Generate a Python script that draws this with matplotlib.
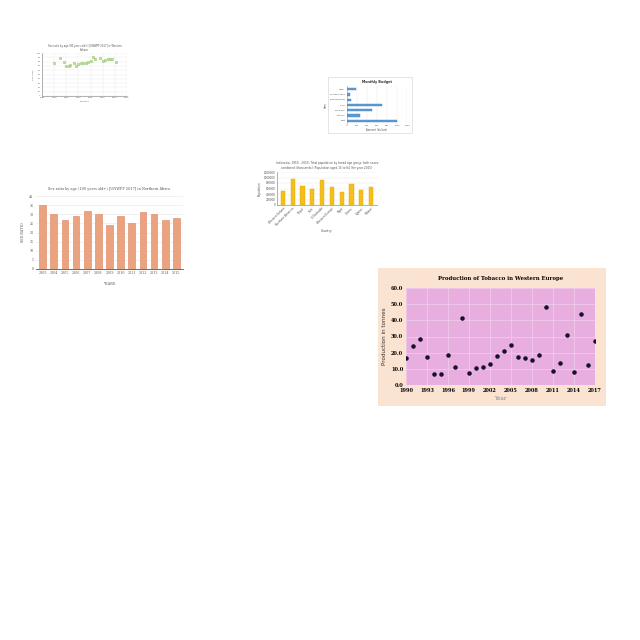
import matplotlib
matplotlib.use("Agg")
import matplotlib.pyplot as plt
from matplotlib.patches import Rectangle
import numpy as np

W = H = 640.0

def box(x0, y0, x1, y1):
    return [x0 / W, 1 - y1 / H, (x1 - x0) / W, (y1 - y0) / H]

# ---------------- data ----------------
# Tobacco (main chart)
tob_years = list(range(1990, 2018))
tob_values = [16.5, 24.2, 28.5, 17.2, 7.0, 7.0, 18.8, 11.4, 41.6, 7.7,
              10.5, 11.4, 13.2, 18.2, 21.3, 24.6, 17.4, 16.5, 15.7, 18.4,
              48.4, 8.7, 13.5, 31.0, 7.9, 43.9, 12.4, 27.1]
tob_xticks = [1990, 1993, 1996, 1999, 2002, 2005, 2008, 2011, 2014, 2017]

# Sex ratio Northern Africa (bars)
na_years = ["2003", "2004", "2005", "2006", "2007", "2008", "2009",
            "2010", "2011", "2012", "2013", "2014", "2015"]
na_values = [35, 30, 27, 29, 32, 30, 24, 29, 25, 31, 30, 27, 28]

# Sex ratio Western Sahara (scatter)
ws_years = [1990, 1992.3, 1994, 1995, 1996, 1996.5, 1998, 1999, 2000, 2001,
            2002, 2003, 2004, 2005, 2006, 2007, 2009, 2010, 2011, 2012,
            2013, 2014, 2015.5]
ws_values = [76, 89, 80, 69, 70, 72, 77, 69, 74, 77, 77, 77, 78, 81, 90,
             86, 88, 82, 84, 86, 86, 86, 80]

# Population aged 15-64 (yellow bars)
pop_countries = ["Western Sahara", "Northern America", "Nepal", "Haiti",
                 "El Salvador", "Western Europe", "Niger", "Ghana",
                 "Cyprus", "Malawi"]
pop_values = [502000, 955000, 686000, 575000, 894000, 637000, 478000,
              759000, 563000, 649000]

# Monthly budget (horizontal bars)
bud_items = ["Rent", "Utilities", "Childcare", "Food", "Entertainment",
             "Transportation", "Other"]
bud_values = [990, 250, 490, 690, 80, 50, 170]

# ---------------- figure ----------------
fig = plt.figure(figsize=(6.4, 6.4), dpi=100)
fig.patch.set_facecolor("white")

# ---- Tobacco chart ----
fig.add_artist(Rectangle((378 / W, 1 - 406 / H), 228 / W, 138 / H,
                         transform=fig.transFigure, facecolor="#fbe3d2",
                         edgecolor="none", zorder=-10))
ax = fig.add_axes(box(406, 288, 594.5, 385))
ax.set_facecolor("#e8aee0")
ax.scatter(tob_years, tob_values, s=5, color="#15102a", zorder=3)
ax.set_xlim(1990, 2017)
ax.set_ylim(0, 60)
ax.set_xticks(tob_xticks)
ax.set_yticks(np.arange(0, 61, 10))
ax.set_yticklabels([f"{v:.1f}" for v in np.arange(0, 61, 10)])
ax.grid(True, color="#f0d0ec", linewidth=0.5)
ax.set_axisbelow(True)
for s in ax.spines.values():
    s.set_visible(False)
ax.tick_params(length=0, pad=2, labelsize=3.6)
for lab in ax.get_xticklabels() + ax.get_yticklabels():
    lab.set_fontfamily("DejaVu Serif")
    lab.set_fontweight("bold")
ax.set_title("Production of Tobacco in Western Europe", fontsize=3.9,
             fontweight="bold", family="DejaVu Serif", pad=6)
ax.set_ylabel("Production in tonnes", fontsize=4.1, color="#333333", labelpad=3)
ax.set_xlabel("Year", fontsize=4.1, family="DejaVu Serif", color="#888888",
              labelpad=2)

# ---- Northern Africa bars ----
ax2 = fig.add_axes(box(36, 196, 183, 269))
x = np.arange(len(na_years))
ax2.bar(x, na_values, width=0.6, color="#eba27f", edgecolor="#d88460",
        linewidth=0.4, zorder=3)
ax2.set_xlim(-0.6, len(na_years) - 0.4)
ax2.set_ylim(0, 40)
ax2.set_yticks(np.arange(0, 41, 5))
ax2.set_xticks(x)
ax2.set_xticklabels(na_years)
ax2.grid(axis="y", color="#e6e6e6", linewidth=0.4)
ax2.set_axisbelow(True)
for k in ["top", "right", "left"]:
    ax2.spines[k].set_visible(False)
ax2.spines["bottom"].set_color("#555555")
ax2.spines["bottom"].set_linewidth(0.6)
ax2.tick_params(length=0, labelsize=2.3, pad=1.8, colors="#555555")
for lab in ax2.get_xticklabels() + ax2.get_yticklabels():
    lab.set_fontfamily("DejaVu Serif")
ax2.set_title("Sex ratio by age (100 years old+) [UNWPP 2017] in Northern Africa",
              fontsize=2.5, family="DejaVu Serif", color="#555555", pad=4)
ax2.set_ylabel("SEX RATIO", fontsize=2.4, family="DejaVu Serif",
               color="#555555", labelpad=3)
ax2.set_xlabel("YEARS", fontsize=2.4, family="DejaVu Serif",
               color="#555555", labelpad=5)

# ---- Western Sahara scatter ----
ax3 = fig.add_axes(box(42, 53, 127, 96))
ax3.scatter(ws_years, ws_values, s=3.5, color="#c2e3a0",
            edgecolor="#8fbf63", linewidth=0.3, zorder=3)
ax3.set_xlim(1985, 2020)
ax3.set_ylim(0, 100)
ax3.set_xticks(np.arange(1985, 2021, 5))
ax3.set_yticks(np.arange(0, 101, 10))
ax3.grid(True, color="#e8e8e8", linewidth=0.3)
ax3.set_axisbelow(True)
for k in ["top", "right"]:
    ax3.spines[k].set_visible(False)
for k in ["left", "bottom"]:
    ax3.spines[k].set_color("#777777")
    ax3.spines[k].set_linewidth(0.4)
ax3.tick_params(length=0, labelsize=1.6, pad=1, colors="#666666")
ax3.set_title("Sex ratio by age (80 years old+) [UNWPP 2017] in Western\nSahara",
              fontsize=1.8, color="#555555", pad=1.5, linespacing=1.1)
ax3.set_ylabel("Sex ratio", fontsize=1.7, color="#666666", labelpad=1.5)
ax3.set_xlabel("Location", fontsize=1.7, color="#666666", labelpad=1.5)

# ---- Population yellow bars ----
ax4 = fig.add_axes(box(277, 172, 377, 205))
x4 = np.arange(len(pop_countries))
ax4.bar(x4, pop_values, width=0.42, color="#f4bf1c", edgecolor="#e3a800",
        linewidth=0.3, zorder=3)
ax4.set_xlim(-0.6, len(pop_countries) - 0.4)
ax4.set_ylim(0, 1200000)
ax4.set_yticks(np.arange(0, 1200001, 200000))
ax4.set_yticklabels([str(v) for v in np.arange(0, 1200001, 200000)])
ax4.set_xticks(x4)
ax4.set_xticklabels(pop_countries, rotation=45, ha="right",
                    rotation_mode="anchor")
ax4.grid(axis="y", color="#e6e6e6", linewidth=0.3)
ax4.set_axisbelow(True)
for k in ["top", "right"]:
    ax4.spines[k].set_visible(False)
for k in ["left", "bottom"]:
    ax4.spines[k].set_color("#777777")
    ax4.spines[k].set_linewidth(0.4)
ax4.tick_params(length=0, labelsize=2.0, pad=1, colors="#555555")
ax4.set_title("Indonesia, 1950 - 2050: Total population by broad age group, both sexes\n"
              "combined (thousands): Population aged 15 to 64 (for year 2015)",
              fontsize=2.1, color="#555555", pad=2.5, linespacing=1.2)
ax4.set_ylabel("Population", fontsize=2.1, color="#555555", labelpad=1.5)
ax4.set_xlabel("Country", fontsize=2.2, color="#555555", labelpad=1.5)

# ---- Monthly budget ----
fig.add_artist(Rectangle((328 / W, 1 - 133 / H), 84 / W, 56 / H,
                         transform=fig.transFigure, facecolor="white",
                         edgecolor="#d9d9d9", linewidth=0.5, zorder=-10))
ax5 = fig.add_axes(box(347, 86, 407, 124))
y5 = np.arange(len(bud_items))
ax5.barh(y5, bud_values, height=0.45, color="#5b9bd5", edgecolor="#4a88c4",
         linewidth=0.3, zorder=3)
ax5.set_xlim(0, 1200)
ax5.set_ylim(-0.6, len(bud_items) - 0.4)
ax5.set_xticks(np.arange(0, 1201, 200))
ax5.set_yticks(y5)
ax5.set_yticklabels(bud_items)
ax5.grid(axis="x", color="#e3e3e3", linewidth=0.3)
ax5.set_axisbelow(True)
for k in ["top", "right", "bottom"]:
    ax5.spines[k].set_visible(False)
ax5.spines["left"].set_color("#999999")
ax5.spines["left"].set_linewidth(0.4)
ax5.tick_params(length=0, labelsize=1.6, pad=1, colors="#555555")
ax5.set_title("Monthly Budget", fontsize=2.4, fontweight="bold",
              color="#333333", pad=2)
ax5.set_ylabel("Item", fontsize=1.8, color="#555555", labelpad=1.5)
ax5.set_xlabel("Amount (dollars)", fontsize=1.8, color="#555555", labelpad=1.5)

fig.savefig("out.png", dpi=100, facecolor="white")
